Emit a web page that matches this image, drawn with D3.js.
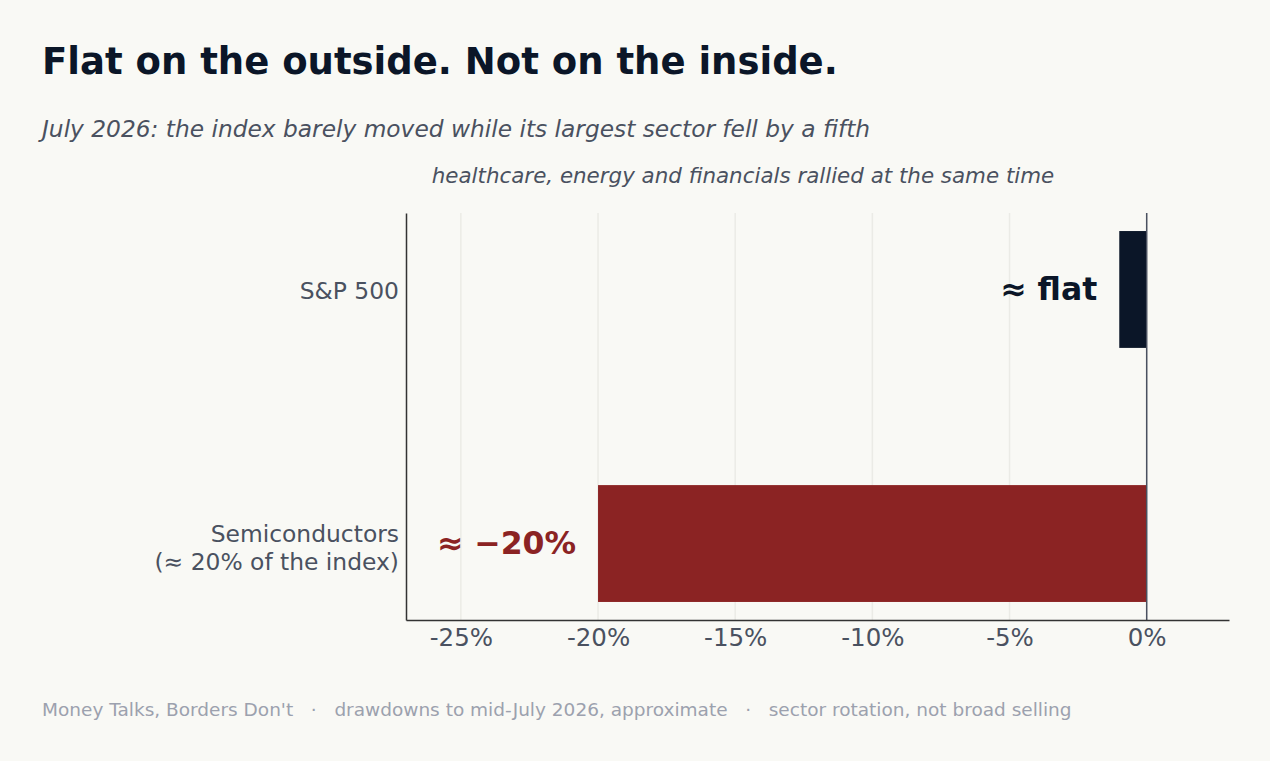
<!DOCTYPE html>
<html>
<head>
<meta charset="utf-8">
<script src="https://cdn.jsdelivr.net/npm/d3@7"></script>
<style>
  body { margin: 0; background: #f9f9f5; }
  text { font-family: "DejaVu Sans", sans-serif; }
</style>
</head>
<body>
<div id="vis"></div>
<script>
// data
var categories = ["S&P 500", "Semiconductors\n(≈ 20% of the index)"];
var drawdowns = [-1, -20];
var barLabels = ["≈ flat", "≈ −20%"];
var barColors = ["#0b1628", "#8b2323"];
var tickValues = [-25, -20, -15, -10, -5, 0];

var width = 1270, height = 761;
var margin = {top: 213, left: 406, bottom: 141, right: 41};

var svg = d3.select("#vis").append("svg")
  .attr("width", width)
  .attr("height", height);

svg.append("rect")
  .attr("width", width).attr("height", height)
  .attr("fill", "#f9f9f5");

var x = d3.scaleLinear()
  .domain([-27, 3])
  .range([margin.left, width - margin.right]);

var y = d3.scaleBand()
  .domain(categories)
  .range([margin.top, height - margin.bottom])
  .paddingInner(0.54)
  .paddingOuter(0.071);

// gridlines
svg.append("g")
  .selectAll("line")
  .data(tickValues)
  .enter().append("line")
  .attr("x1", function(d) { return x(d); })
  .attr("x2", function(d) { return x(d); })
  .attr("y1", margin.top)
  .attr("y2", height - margin.bottom)
  .attr("stroke", "#ebebe6")
  .attr("stroke-width", 1.5);

// bars
svg.append("g")
  .selectAll("rect")
  .data(drawdowns)
  .enter().append("rect")
  .attr("x", function(d) { return x(Math.min(0, d)); })
  .attr("y", function(d, i) { return y(categories[i]); })
  .attr("width", function(d) { return Math.abs(x(d) - x(0)); })
  .attr("height", y.bandwidth())
  .attr("fill", function(d, i) { return barColors[i]; });

// zero line
svg.append("line")
  .attr("x1", x(0)).attr("x2", x(0))
  .attr("y1", margin.top).attr("y2", height - margin.bottom)
  .attr("stroke", "#4a5160")
  .attr("stroke-width", 1.5);

// bar annotations
svg.append("g")
  .selectAll("text")
  .data(drawdowns)
  .enter().append("text")
  .attr("x", function(d) { return x(d) - 22; })
  .attr("y", function(d, i) { return y(categories[i]) + y.bandwidth() / 2; })
  .attr("dy", "0.32em")
  .attr("text-anchor", "end")
  .attr("font-size", 31.5)
  .attr("font-weight", "bold")
  .attr("fill", function(d, i) { return barColors[i]; })
  .text(function(d, i) { return barLabels[i]; });

// x axis
var xAxis = svg.append("g")
  .attr("transform", "translate(0," + (height - margin.bottom) + ")")
  .call(d3.axisBottom(x).tickValues(tickValues).tickSize(0).tickPadding(9)
    .tickFormat(function(d) { return d + "%"; }));
xAxis.select(".domain").attr("stroke", "#333").attr("stroke-width", 1.5);
xAxis.selectAll("text")
  .attr("font-size", 24.5)
  .attr("fill", "#4a5160")
  .style("font-family", "DejaVu Sans, sans-serif");

// y axis
var yAxis = svg.append("g")
  .attr("transform", "translate(" + margin.left + ",0)")
  .call(d3.axisLeft(y).tickSize(0).tickFormat(""));
yAxis.select(".domain").attr("stroke", "#333").attr("stroke-width", 1.5);

yAxis.selectAll(".tick").each(function(d) {
  var lines = d.split("\n");
  var t = d3.select(this).append("text")
    .attr("x", -7)
    .attr("text-anchor", "end")
    .attr("font-size", 23.4)
    .attr("fill", "#4a5160")
    .style("font-family", "DejaVu Sans, sans-serif");
  lines.forEach(function(l, i) {
    t.append("tspan")
      .attr("x", -7)
      .attr("dy", i === 0 ? (0.4 - (lines.length - 1) * 0.48) + "em" : "1.2em")
      .text(l);
  });
});

// titles
svg.append("text")
  .attr("x", 42).attr("y", 74)
  .attr("font-size", 37)
  .attr("font-weight", "bold")
  .attr("fill", "#0b1628")
  .text("Flat on the outside. Not on the inside.");

svg.append("text")
  .attr("x", 42).attr("y", 137)
  .attr("font-size", 23.3)
  .attr("font-style", "italic")
  .attr("fill", "#4a5160")
  .text("July 2026: the index barely moved while its largest sector fell by a fifth");

svg.append("text")
  .attr("x", 743).attr("y", 183)
  .attr("text-anchor", "middle")
  .attr("font-size", 21.4)
  .attr("font-style", "italic")
  .attr("fill", "#4a5160")
  .text("healthcare, energy and financials rallied at the same time");

// footer
svg.append("text")
  .attr("x", 42).attr("y", 716)
  .attr("font-size", 18.5)
  .attr("fill", "#9ca1ae")
  .style("white-space", "pre")
  .text("Money Talks, Borders Don't   ·   drawdowns to mid-July 2026, approximate   ·   sector rotation, not broad selling");
</script>
</body>
</html>
